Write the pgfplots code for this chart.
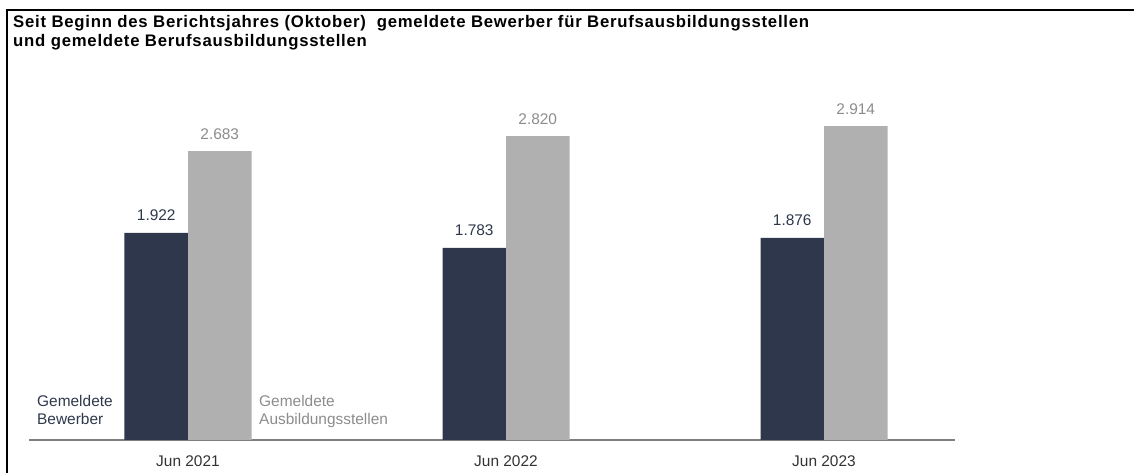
\documentclass[border=0pt]{standalone}
\usepackage{pgfplots}
\pgfplotsset{compat=1.18}
\usepackage{fontspec}
\setmainfont{Liberation Sans}
\newfontfamily\titlefont[LetterSpace=4.5]{Liberation Sans}
\definecolor{navy}{HTML}{2E374B}
\definecolor{bargray}{HTML}{B0B0B0}
\definecolor{txtgray}{HTML}{8C8C8C}
\definecolor{axgray}{HTML}{7F7F7F}
\definecolor{ticktxt}{HTML}{333333}
\begin{document}
\begin{tikzpicture}[x=1bp,y=1bp]
\useasboundingbox (0,0) rectangle (1134,473);
\draw[line width=1.5bp] (7,0) -- (7,463) -- (1134,463);
\node[anchor=base west, font=\titlefont\fontsize{16.8}{19}\selectfont\bfseries, inner sep=0] at (13,445) {Seit Beginn des Berichtsjahres (Oktober)\ \ gemeldete Bewerber für Berufsausbildungsstellen};
\node[anchor=base west, font=\titlefont\fontsize{16.8}{19}\selectfont\bfseries, inner sep=0] at (13,426) {und gemeldete Berufsausbildungsstellen};
\begin{axis}[
 at={(29bp,33bp)}, anchor=south west, scale only axis, width=926bp, height=380bp,
 xmin=-0.5, xmax=2.412, ymin=0, ymax=3528,
 ybar=0pt, bar width=63.5bp,
 axis y line=none, axis x line*=bottom,
 axis line style={axgray, line width=1.5bp, -},
 xtick={0,1,2}, xticklabels={Jun 2021, Jun 2022, Jun 2023}, major tick length=0,
 xticklabel style={anchor=base, yshift=-27bp, font=\fontsize{15.5}{18}\selectfont, text=ticktxt},
 clip=false,
 point meta=y,
 nodes near coords={\pgfmathprintnumber[assume math mode=true,1000 sep={.}]{\pgfplotspointmeta}},
 every node near coord/.append style={anchor=base, yshift=12bp, font=\fontsize{15.5}{18}\selectfont},
]
\addplot[fill=navy, draw=none, every node near coord/.append style={text=navy}] coordinates {(0,1922) (1,1783) (2,1876)};
\addplot[fill=bargray, draw=none, every node near coord/.append style={text=txtgray}] coordinates {(0,2683) (1,2820) (2,2914)};
\end{axis}
\node[anchor=base west, inner sep=0, text=navy, font=\fontsize{15.5}{18}\selectfont] at (37,66) {Gemeldete};
\node[anchor=base west, inner sep=0, text=navy, font=\fontsize{15.5}{18}\selectfont] at (37,48) {Bewerber};
\node[anchor=base west, inner sep=0, text=txtgray, font=\fontsize{15.5}{18}\selectfont] at (259,66) {Gemeldete};
\node[anchor=base west, inner sep=0, text=txtgray, font=\fontsize{15.5}{18}\selectfont] at (259,48) {Ausbildungsstellen};
\end{tikzpicture}
\end{document}
